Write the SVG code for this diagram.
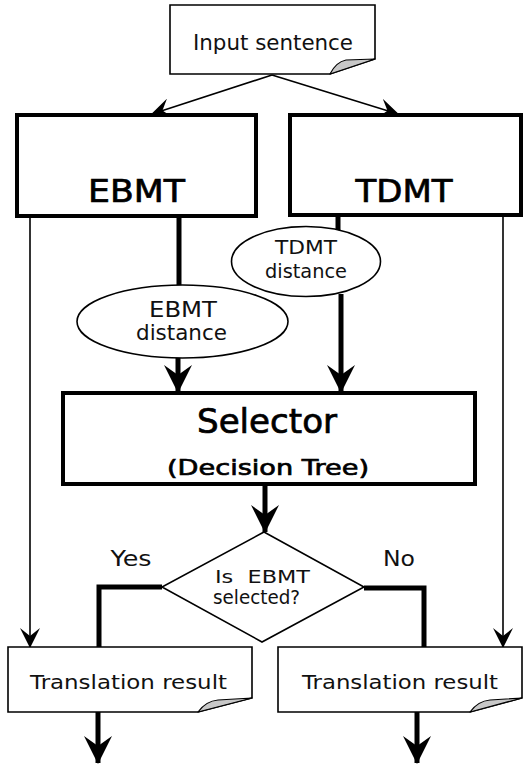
<svg xmlns="http://www.w3.org/2000/svg" width="528" height="765" viewBox="0 0 528 765">
  <defs>
    <style>
      .bg { fill: #ffffff; }
      .box { fill: #ffffff; stroke: #000000; stroke-width: 4; }
      .doc { fill: #ffffff; stroke: #000000; stroke-width: 1.6; }
      .fold { fill: #c8c8c8; stroke: #000000; stroke-width: 1.2; stroke-linejoin: round; }
      .oval { fill: #ffffff; stroke: #000000; stroke-width: 1.6; }
      .thin { fill: none; stroke: #000000; stroke-width: 1.6; }
      .thick { fill: none; stroke: #000000; stroke-width: 5; }
      .t { font-family: "DejaVu Sans", "Liberation Sans", sans-serif; fill: #111111; text-anchor: middle; }
      .m { fill: #000000; stroke: #000000; stroke-width: 0.7; }
    </style>
    <marker id="headThin" viewBox="0 0 20 20" refX="19" refY="10" markerWidth="20" markerHeight="20" markerUnits="userSpaceOnUse" orient="auto">
      <path d="M0,0 L20,10 L0,20 L8,10 Z" fill="#000000"/>
    </marker>
    <marker id="headThick" viewBox="0 0 28 28" refX="27" refY="14" markerWidth="28" markerHeight="28" markerUnits="userSpaceOnUse" orient="auto">
      <path d="M0,0 L28,14 L0,28 L10,14 Z" fill="#000000"/>
    </marker>
  </defs>

  <rect class="bg" x="0" y="0" width="528" height="765"/>

  <!-- connectors -->
  <g id="connectors">
    <line class="thin" x1="272" y1="75" x2="152" y2="114" marker-end="url(#headThin)"/>
    <line class="thin" x1="272" y1="75" x2="398" y2="114" marker-end="url(#headThin)"/>
    <line class="thin" x1="30" y1="216" x2="30" y2="647" marker-end="url(#headThin)"/>
    <line class="thin" x1="503" y1="215" x2="503" y2="647" marker-end="url(#headThin)"/>
    <line class="thick" x1="179" y1="216" x2="179" y2="290"/>
    <line class="thick" x1="338" y1="215" x2="338" y2="232"/>
    <line class="thick" x1="178" y1="356" x2="178" y2="392" marker-end="url(#headThick)"/>
    <line class="thick" x1="341" y1="294" x2="341" y2="392" marker-end="url(#headThick)"/>
    <line class="thick" x1="265" y1="485" x2="265" y2="532" marker-end="url(#headThick)"/>
    <polyline class="thick" points="162,587 99,587 99,647"/>
    <polyline class="thick" points="364,588 424,588 424,647"/>
    <line class="thick" x1="98" y1="712" x2="98" y2="763" marker-end="url(#headThick)"/>
    <line class="thick" x1="417" y1="712" x2="417" y2="763" marker-end="url(#headThick)"/>
  </g>

  <!-- input document -->
  <g id="input">
    <path class="doc" d="M170,5 H375 V59 L330,74 H170 Z"/>
    <path class="fold" d="M330,74 Q336,62 346,60 L375,59 Z"/>
    <text class="t" x="273" y="50" font-size="21" textLength="160" lengthAdjust="spacingAndGlyphs">Input sentence</text>
  </g>

  <!-- EBMT engine -->
  <g id="ebmt">
    <rect class="box" x="17" y="115" width="239" height="101"/>
    <text class="t m" x="136.5" y="202" font-size="32" textLength="97" lengthAdjust="spacingAndGlyphs">EBMT</text>
  </g>

  <!-- TDMT engine -->
  <g id="tdmt">
    <rect class="box" x="290" y="115" width="231" height="100"/>
    <text class="t m" x="404" y="202" font-size="32" textLength="97" lengthAdjust="spacingAndGlyphs">TDMT</text>
  </g>

  <!-- distance scores -->
  <g id="ebmt-distance">
    <ellipse class="oval" cx="182.5" cy="321.5" rx="105.5" ry="36.5"/>
    <text class="t" x="183" y="317" font-size="21" textLength="68" lengthAdjust="spacingAndGlyphs">EBMT</text>
    <text class="t" x="181.5" y="340" font-size="21" textLength="91" lengthAdjust="spacingAndGlyphs">distance</text>
  </g>

  <g id="tdmt-distance">
    <ellipse class="oval" cx="306" cy="261.5" rx="74.5" ry="35"/>
    <text class="t" x="306" y="254" font-size="20" textLength="62" lengthAdjust="spacingAndGlyphs">TDMT</text>
    <text class="t" x="306" y="278" font-size="20" textLength="82" lengthAdjust="spacingAndGlyphs">distance</text>
  </g>

  <!-- selector -->
  <g id="selector">
    <rect class="box" x="63" y="393" width="412" height="91"/>
    <text class="t m" x="267" y="433" font-size="33" textLength="140" lengthAdjust="spacingAndGlyphs">Selector</text>
    <text class="t m" x="268" y="475" font-size="22" textLength="202" lengthAdjust="spacingAndGlyphs">(Decision Tree)</text>
  </g>

  <!-- decision -->
  <g id="decision">
    <polygon class="thin" fill="#ffffff" points="264,532 364,587 262,642 162,587"/>
    <text class="t" x="262.5" y="583" font-size="18" textLength="95" lengthAdjust="spacingAndGlyphs" xml:space="preserve">Is  EBMT</text>
    <text class="t" x="256.5" y="604" font-size="19" textLength="87" lengthAdjust="spacingAndGlyphs">selected?</text>
  </g>

  <g id="labels">
    <text class="t" x="131" y="566" font-size="22" textLength="41" lengthAdjust="spacingAndGlyphs">Yes</text>
    <text class="t" x="399" y="566" font-size="22" textLength="32" lengthAdjust="spacingAndGlyphs">No</text>
  </g>

  <!-- outputs -->
  <g id="result-ebmt">
    <path class="doc" d="M8,647 H252 V698 L198,712 H8 Z"/>
    <path class="fold" d="M198,712 Q206,701 218,700 L252,698 Z"/>
    <text class="t" x="128.5" y="689" font-size="20" textLength="197" lengthAdjust="spacingAndGlyphs">Translation result</text>
  </g>

  <g id="result-tdmt">
    <path class="doc" d="M278,647 H522 V698 L470,712 H278 Z"/>
    <path class="fold" d="M470,712 Q478,701 490,700 L522,698 Z"/>
    <text class="t" x="400" y="689" font-size="20" textLength="196" lengthAdjust="spacingAndGlyphs">Translation result</text>
  </g>
</svg>
